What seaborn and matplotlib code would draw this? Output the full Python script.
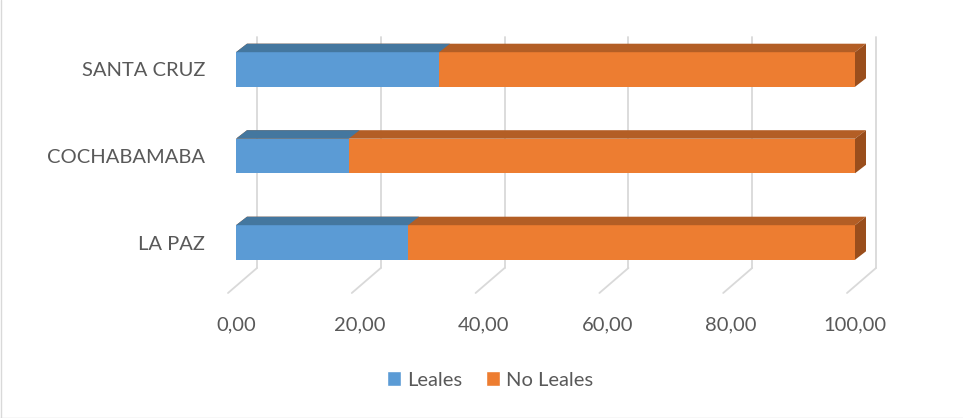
import numpy as np
import pandas as pd
import matplotlib.pyplot as plt
from matplotlib.patches import Polygon, Patch
from matplotlib.lines import Line2D
import seaborn as sns

# datos (porcentaje)
departamentos = ['SANTA CRUZ', 'COCHABAMABA', 'LA PAZ']
leales = [32.8, 18.2, 27.8]
no_leales = [67.2, 81.8, 72.2]
ticks = [0, 20, 40, 60, 80, 100]
tick_labels = ['0,00', '20,00', '40,00', '60,00', '80,00', '100,00']

sns.set_style('white')
plt.rcParams['font.family'] = ['Lato', 'DejaVu Sans']

df = pd.DataFrame({'depto': departamentos, 'Leales': leales, 'No Leales': no_leales})
df['total'] = df['Leales'] + df['No Leales']

W, H = 963, 418
fig = plt.figure(figsize=(W / 100, H / 100), dpi=100)
# ejes en pixeles: izq 215, der 900, arriba 10, abajo 300
ax = fig.add_axes([215 / W, 1 - 300 / H, (900 - 215) / W, 290 / H])

azul, azul_sup = '#5B9BD5', '#44779F'
naranja, naranja_sup, naranja_lado = '#ED7D31', '#B35E25', '#9A4E1C'

sns.barplot(data=df, y='depto', x='total', color=naranja, orient='h', width=0.4,
            saturation=1, linewidth=0, ax=ax, zorder=3)
sns.barplot(data=df, y='depto', x='Leales', color=azul, orient='h', width=0.4,
            saturation=1, linewidth=0, ax=ax, zorder=4)

px_x = 6.19   # px por unidad
px_y = 86.5
ax.set_xlim((215 - 236) / px_x, (900 - 236) / px_x)
ax.set_ylim((300 - 69.5) / px_y, (10 - 69.5) / px_y)

dx, dy = 11 / px_x, -8.5 / px_y
gx = 21 / px_x
y_top = (37 - 69.5) / px_y
y_back = (268 - 69.5) / px_y
y_front = (293 - 69.5) / px_y
fx = -29 / px_x

# paredes / rejilla
for t in ticks:
    ax.plot([t + gx, t + gx], [y_top, y_back], color='#D9D9D9', lw=1.3, zorder=1)
    ax.plot([t + gx, t + gx + fx], [y_back, y_front], color='#D9D9D9', lw=1.3, zorder=1)

# caras 3D
bars = list(ax.patches)
n = len(departamentos)
for i, b in enumerate(bars):
    x0, y0 = b.get_x(), b.get_y()
    w, h = b.get_width(), b.get_height()
    top = y0  # eje invertido: y0 es arriba
    sup = azul_sup if i >= n else naranja_sup
    ax.add_patch(Polygon([(x0, top), (x0 + w, top), (x0 + w + dx, top + dy), (x0 + dx, top + dy)],
                         closed=True, facecolor=sup, edgecolor='none', zorder=b.get_zorder()))
    if i < n:
        ax.add_patch(Polygon([(x0 + w, top), (x0 + w + dx, top + dy),
                              (x0 + w + dx, top + h + dy), (x0 + w, top + h)],
                             closed=True, facecolor=naranja_lado, edgecolor='none', zorder=3))

ax.set_xticks(ticks, tick_labels)
ax.tick_params(axis='x', length=0, pad=12, labelsize=14.5, labelcolor='#595959')
ax.tick_params(axis='y', length=0, pad=7, labelsize=14.5, labelcolor='#595959')
ax.set_xlabel('')
ax.set_ylabel('')
for s in ax.spines.values():
    s.set_visible(False)
for lab in ax.get_xticklabels():
    lab.set_clip_on(False)

handles = [Patch(facecolor=azul, label='Leales'), Patch(facecolor=naranja, label='No Leales')]
fig.legend(handles=handles, loc='center', bbox_to_anchor=(490 / W, 1 - 380 / H), ncol=2,
           frameon=False, fontsize=14.5, labelcolor='#595959', handlelength=0.7,
           handleheight=0.7, handletextpad=0.3, columnspacing=1.2)

# borde del area del grafico
fig.add_artist(Line2D([0.5 / W, 0.5 / W], [0, 1], color='#D9D9D9', lw=1))
fig.add_artist(Line2D([0, 1], [0.5 / H, 0.5 / H], color='#D9D9D9', lw=1))

fig.savefig('out.png', dpi=100)
